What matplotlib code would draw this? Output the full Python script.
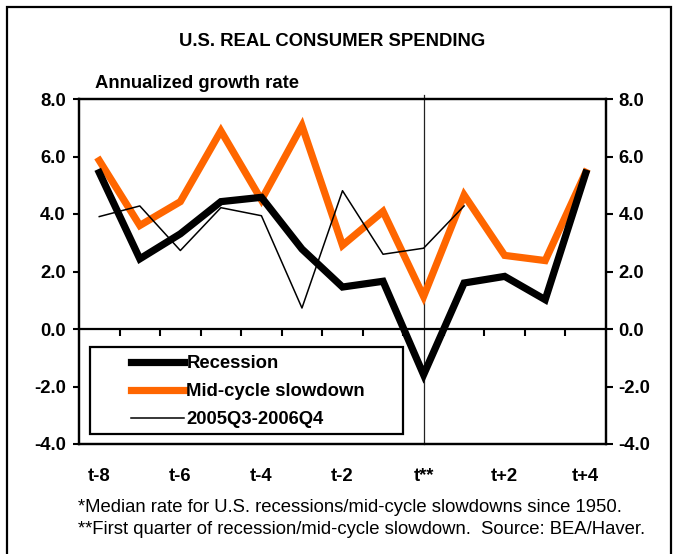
import matplotlib
matplotlib.use("Agg")
import matplotlib.pyplot as plt
from matplotlib.patches import Rectangle

plt.rcParams['font.family'] = ['Liberation Sans', 'DejaVu Sans']

quarters = ["t-8", "t-7", "t-6", "t-5", "t-4", "t-3", "t-2", "t-1",
            "t**", "t+1", "t+2", "t+3", "t+4"]
recession = [5.44, 2.44, 3.31, 4.43, 4.58, 2.78, 1.46, 1.66,
             -1.59, 1.60, 1.83, 1.02, 5.42]
midcycle = [5.86, 3.60, 4.43, 6.89, 4.49, 7.07, 2.91, 4.09,
            1.13, 4.66, 2.56, 2.38, 5.45]
recent = [3.91, 4.28, 2.73, 4.22, 3.94, 0.73, 4.81, 2.60, 2.81, 4.28]
ytick_vals = [-4, -2, 0, 2, 4, 6, 8]

W, H = 678, 554
FS = 13.3
fig = plt.figure(figsize=(W / 100, H / 100), dpi=100)

# outer frame
fig.patches.append(Rectangle((7 / W, -0.02), (671 - 7) / W, 1.02 - 7 / H,
                             transform=fig.transFigure, fill=False,
                             edgecolor='black', linewidth=1.6, clip_on=False))

ax = fig.add_axes([79 / W, 1 - 444 / H, (606 - 79) / W, (444 - 99) / H])
x = list(range(len(quarters)))
xr = x[:len(recent)]

ax.plot(x, recession, color='black', linewidth=5.2, solid_joinstyle='miter',
        label='Recession', zorder=4)
ax.plot(x, midcycle, color='#FF6600', linewidth=5.2, solid_joinstyle='miter',
        label='Mid-cycle slowdown', zorder=3)
ax.plot(xr, recent, color='black', linewidth=1.1, label='2005Q3-2006Q4',
        zorder=5)

ax.set_xlim(-0.5, len(quarters) - 0.5)
ax.set_ylim(-4, 8)
ax.axvline(quarters.index("t**"), ymin=0, ymax=1.012, color='#222222',
           linewidth=0.9, zorder=2, clip_on=False)
ax.axhline(0, color='black', linewidth=1.6, zorder=2)

ax.set_xticks(x[::2])
ax.set_xticklabels(quarters[::2], fontsize=FS, fontweight='bold')
ax.tick_params(axis='x', length=0, pad=17)
ax.set_yticks(ytick_vals)
ax.set_yticklabels([f"{v:.1f}" for v in ytick_vals], fontsize=FS,
                   fontweight='bold')
ax.tick_params(axis='y', direction='out', length=4.5, width=1.5, pad=5)
for s in ax.spines.values():
    s.set_linewidth(1.6)

# right axis
axr = ax.twinx()
axr.set_ylim(ax.get_ylim())
axr.set_yticks(ytick_vals)
axr.set_yticklabels([f"{v:.1f}" for v in ytick_vals], fontsize=FS,
                    fontweight='bold')
axr.tick_params(axis='y', direction='out', length=5, width=1.5, pad=4)
for s in axr.spines.values():
    s.set_linewidth(1.6)

# tick marks along the zero line
axz = ax.twiny()
axz.set_xlim(ax.get_xlim())
axz.spines['bottom'].set_position(('data', 0))
for k in ['top', 'left', 'right', 'bottom']:
    axz.spines[k].set_visible(False)
axz.xaxis.set_ticks_position('bottom')
axz.set_xticks([v + 0.5 for v in x[:-1]])
axz.tick_params(axis='x', direction='out', length=5, width=1.5,
                labelbottom=False, labeltop=False, top=False)

# legend box
ax.add_patch(Rectangle(((90 - 79) / 527, (444 - 434) / 345),
                       (403 - 90) / 527, (434 - 347) / 345,
                       transform=ax.transAxes, facecolor='white',
                       edgecolor='black', linewidth=1.6, zorder=6))
leg = ax.legend(loc='upper left', bbox_to_anchor=((131 - 79) / 527, (444 - 355) / 345),
                frameon=False, borderpad=0, borderaxespad=0, handlelength=2.85,
                handletextpad=0.15, labelspacing=0.6,
                prop={'weight': 'bold', 'size': FS})
leg.set_zorder(7)

fig.text(0.4904, 1 - 42 / H, "U.S. REAL CONSUMER SPENDING", ha='center',
         va='center', fontsize=FS, fontweight='bold')
fig.text(95 / W, 1 - 84 / H, "Annualized growth rate", ha='left',
         va='center', fontsize=FS, fontweight='bold')
fig.text(78 / W, 1 - 507 / H,
         "*Median rate for U.S. recessions/mid-cycle slowdowns since 1950.",
         ha='left', va='center', fontsize=13.3)
fig.text(78 / W, 1 - 530 / H,
         "**First quarter of recession/mid-cycle slowdown.  Source: BEA/Haver.",
         ha='left', va='center', fontsize=13.3)

fig.savefig("out.png", dpi=100)
